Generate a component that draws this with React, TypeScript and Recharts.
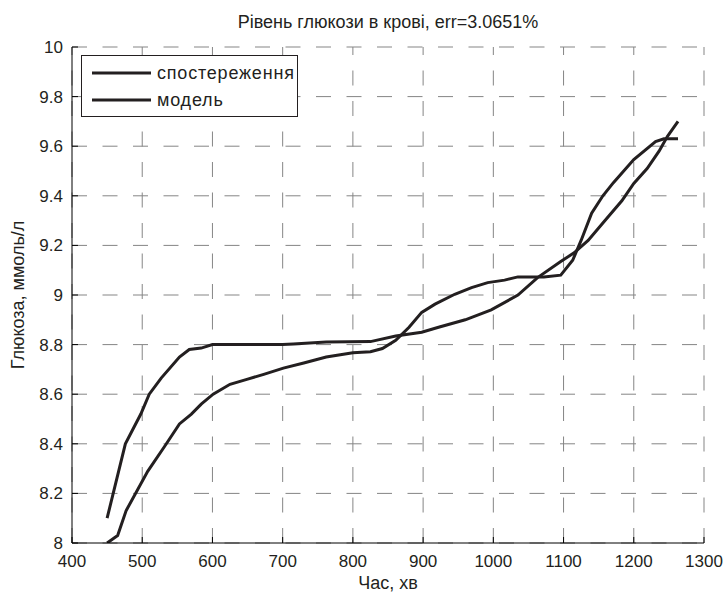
import React from "react";
import { LineChart, Line, XAxis, YAxis, ReferenceLine, Legend, Label } from "recharts";

if (typeof document !== "undefined") {
  document.body.style.margin = "0";
  document.body.style.overflow = "hidden";
}

const titleText = "Рівень глюкози в крові, err=3.0651%";
const xTitle = "Час, хв";
const yTitle = "Глюкоза, ммоль/л";
const seriesNames = ["спостереження", "модель"];

const xTicks = [400, 500, 600, 700, 800, 900, 1000, 1100, 1200, 1300];
const yTicks = [8, 8.2, 8.4, 8.6, 8.8, 9, 9.2, 9.4, 9.6, 9.8, 10];

const obsTime = [450, 476, 498, 510, 527, 553, 567, 584, 600, 700, 715, 762, 825, 861, 898, 922, 960, 997, 1035, 1063, 1096, 1115, 1135, 1156, 1183, 1200, 1219, 1236, 1248, 1263];
const obsValue = [8.1, 8.4, 8.52, 8.6, 8.665, 8.75, 8.78, 8.786, 8.8, 8.8, 8.802, 8.81, 8.812, 8.835, 8.85, 8.87, 8.9, 8.94, 9.0, 9.07, 9.135, 9.17, 9.22, 9.29, 9.38, 9.45, 9.51, 9.58, 9.64, 9.7];

const modelTime = [450, 465, 477, 508, 532, 553, 570, 584, 601, 625, 649, 673, 701, 730, 762, 800, 825, 842, 861, 880, 898, 917, 945, 969, 992, 1016, 1035, 1072, 1096, 1113, 1125, 1140, 1156, 1171, 1200, 1231, 1243, 1263];
const modelValue = [8.0, 8.03, 8.13, 8.29, 8.39, 8.48, 8.52, 8.56, 8.6, 8.64, 8.66, 8.68, 8.705, 8.726, 8.75, 8.767, 8.771, 8.784, 8.817, 8.87, 8.93, 8.963, 9.003, 9.03, 9.05, 9.06, 9.073, 9.073, 9.08, 9.14, 9.22, 9.33, 9.4, 9.453, 9.546, 9.619, 9.63, 9.63];

const obsData = obsTime.map((t, i) => ({ t, v: obsValue[i] }));
const modelData = modelTime.map((t, i) => ({ t, v: modelValue[i] }));

const LINE_COLOR = "#231f20";
const FONT = "'Liberation Sans', Arial, Helvetica, sans-serif";
const GRID = "#858585";
const DASH = "15 15.5";

const LegendBox = (props: any) => {
  const payload = [...(props.payload || [])].sort(
    (a: any, b: any) => seriesNames.indexOf(a.value) - seriesNames.indexOf(b.value)
  );
  return (
    <div
      style={{
        width: 217,
        height: 62,
        boxSizing: "border-box",
        border: "1px solid #231f20",
        background: "#fff",
        position: "relative",
        fontFamily: FONT,
        fontSize: 18,
        color: LINE_COLOR,
      }}
    >
      {payload.map((p: any, i: number) => (
        <div
          key={i}
          style={{
            position: "absolute",
            left: 10,
            top: i === 0 ? 6 : 33,
            height: 22,
            display: "flex",
            alignItems: "center",
            whiteSpace: "nowrap",
          }}
        >
          <svg width={60} height={6} style={{ display: "block" }}>
            <line x1={0} y1={3} x2={59} y2={3} stroke={LINE_COLOR} strokeWidth={3} />
          </svg>
          <span style={{ marginLeft: 5, letterSpacing: 0.8 }}>{p.value}</span>
        </div>
      ))}
    </div>
  );
};

export default function App() {
  return (
    <div style={{ position: "relative", width: 724, height: 592, fontFamily: FONT, background: "#fff" }}>
      <div
        style={{
          position: "absolute",
          left: 72,
          width: 632,
          top: 13,
          textAlign: "center",
          fontSize: 18,
          lineHeight: "18px",
          color: LINE_COLOR,
          whiteSpace: "nowrap",
        }}
      >
        {titleText}
      </div>
      <LineChart width={724} height={592} margin={{ top: 47, right: 20, bottom: 0, left: 0 }}>
        <XAxis
          dataKey="t"
          type="number"
          domain={[400, 1300]}
          ticks={xTicks}
          allowDataOverflow
          height={49}
          tickSize={-6}
          tickMargin={18}
          stroke="#000"
          tick={{ fill: LINE_COLOR, fontSize: 17, fontFamily: FONT }}
        >
          <Label value={xTitle} position="insideBottom" offset={3} style={{ fill: LINE_COLOR, fontSize: 18, fontFamily: FONT }} />
        </XAxis>
        <XAxis
          xAxisId="top"
          orientation="top"
          dataKey="t"
          type="number"
          domain={[400, 1300]}
          ticks={xTicks}
          allowDataOverflow
          height={0}
          tickSize={-6}
          tick={false}
          stroke="#000"
        />
        <YAxis
          type="number"
          domain={[8, 10]}
          ticks={yTicks}
          allowDataOverflow
          width={72}
          tickSize={-6}
          tickMargin={15}
          stroke="#000"
          tickFormatter={(v: number) => String(v)}
          tick={{ fill: LINE_COLOR, fontSize: 17, fontFamily: FONT }}
        >
          <Label
            value={yTitle}
            angle={-90}
            position="insideLeft"
            offset={18}
            style={{ textAnchor: "middle", fill: LINE_COLOR, fontSize: 18, fontFamily: FONT }}
          />
        </YAxis>
        <YAxis
          yAxisId="right"
          orientation="right"
          type="number"
          domain={[8, 10]}
          ticks={yTicks}
          allowDataOverflow
          width={0}
          tickSize={-6}
          tick={false}
          stroke="#000"
        />
        {xTicks.map((t) => (
          <ReferenceLine key={"vx" + t} x={t} stroke={GRID} strokeWidth={1} strokeDasharray={DASH} />
        ))}
        {yTicks.map((v) => (
          <ReferenceLine key={"hy" + v} y={v} stroke={GRID} strokeWidth={1} strokeDasharray={DASH} />
        ))}
        <Legend
          layout="vertical"
          align="center"
          verticalAlign="middle"
          content={LegendBox as any}
          wrapperStyle={{ position: "absolute", left: 81, top: 55, width: 217, height: 62 }}
        />
        <Line
          data={obsData}
          dataKey="v"
          name={seriesNames[0]}
          type="linear"
          stroke={LINE_COLOR}
          strokeWidth={3}
          dot={false}
          activeDot={false}
          isAnimationActive={false}
        />
        <Line
          data={modelData}
          dataKey="v"
          name={seriesNames[1]}
          type="linear"
          stroke={LINE_COLOR}
          strokeWidth={3}
          dot={false}
          activeDot={false}
          isAnimationActive={false}
        />
      </LineChart>
    </div>
  );
}
